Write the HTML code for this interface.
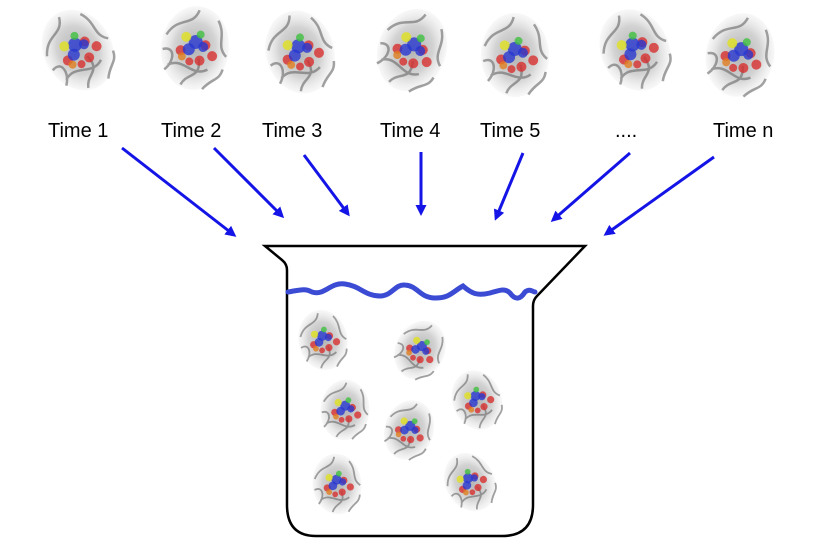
<!DOCTYPE html>
<html><head><meta charset="utf-8"><style>
html,body{margin:0;padding:0;background:#fff;}
svg{display:block;font-family:"Liberation Sans",sans-serif;}
</style></head><body>
<svg id="s" width="837" height="542" viewBox="0 0 837 542">
<defs>
<marker id="ah" markerWidth="11" markerHeight="11" refX="8" refY="5.5" orient="auto" markerUnits="userSpaceOnUse" viewBox="0 0 11 11">
<path d="M0,0 L11,5.5 L0,11 Z" fill="#1414e6"/>
</marker>
<radialGradient id="pg" cx="50%" cy="50%" r="50%">
<stop offset="0%" stop-color="#999"/><stop offset="60%" stop-color="#c4c4c4"/><stop offset="100%" stop-color="#ececec" stop-opacity="0.5"/>
</radialGradient>
</defs>
<g id="labels" font-size="20" fill="#000">
<text x="48" y="137">Time 1</text>
<text x="161" y="137">Time 2</text>
<text x="262" y="137">Time 3</text>
<text x="380" y="137">Time 4</text>
<text x="480" y="137">Time 5</text>
<text x="615" y="137">....</text>
<text x="713" y="137">Time n</text>
</g>
<g id="arrows" stroke="#1414e6" stroke-width="3">
<line x1="122" y1="148" x2="234" y2="235" marker-end="url(#ah)"/>
<line x1="214" y1="148" x2="282" y2="216" marker-end="url(#ah)"/>
<line x1="304" y1="155" x2="348" y2="214" marker-end="url(#ah)"/>
<line x1="421" y1="152" x2="421" y2="213" marker-end="url(#ah)"/>
<line x1="523" y1="153" x2="496" y2="218" marker-end="url(#ah)"/>
<line x1="630" y1="153" x2="553" y2="220" marker-end="url(#ah)"/>
<line x1="714" y1="157" x2="606" y2="234" marker-end="url(#ah)"/>
</g>
<path d="M265,246 L585,246 L537,296 Q533,300 533,306 L533,505 Q533,536 502,536 L316,536 Q287,536 287,505 L287,270 Q287,264 282,260 Z" fill="none" stroke="#000" stroke-width="2.5"/>
<path d="M288,292 C300,290 305,288 312,292 C325,296 330,282 345,284 C360,286 365,296 380,296 C392,296 395,284 405,285 C418,286 420,298 435,298 C450,298 452,292 463,286 C472,294 478,296 490,293 C500,290 505,288 510,293 C515,300 520,300 525,292 C530,288 533,292 535,292" fill="none" stroke="#3b4bd4" stroke-width="5" stroke-linecap="round"/>
<g id="prots"></g>
</svg>
<script>
const g=document.getElementById('prots');
const NS='http://www.w3.org/2000/svg';
const prots=[[78,50,1],[195,48,1],[300,52,1],[412,50,1],[515,55,1],[635,50,1],[740,55,1],
[323,340,0.72],[420,350,0.72],[345,410,0.72],[477,400,0.72],[409,430,0.72],[337,484,0.72],[470,482,0.72]];
prots.forEach((p,i)=>{
 const grp=document.createElementNS(NS,'g');
 
 
 grp.setAttribute('transform',`translate(${p[0]},${p[1]}) scale(${p[2]}) rotate(${i*37%60-30})`);
 let h=`<ellipse rx="34" ry="42" fill="url(#pg)" opacity="0.75"/>`;
 h+=`<path d="M-30,-10 C-20,-30 -5,-20 0,-38 M-25,20 C-10,10 0,30 15,20 M-10,38 C-5,25 10,30 5,10 M20,-30 C30,-15 20,-5 32,5 M-32,5 C-20,0 -18,15 -28,25 M12,40 C20,28 28,30 30,18" fill="none" stroke="#666" stroke-width="2.5" opacity="0.6"/>`;
 const cols=[['#d83030',10,-4,5],['#d83030',18,6,5],['#d83030',-14,4,5],['#2838d0',0,-6,7],['#2838d0',-6,2,6],['#e0e020',-10,-10,5],['#40c040',4,-14,4],['#e08020',-12,10,4],['#d83030',6,12,5],['#2838d0',8,-2,5],['#d83030',-4,14,4]];
 cols.forEach(c=>{h+=`<circle cx="${c[1]}" cy="${c[2]}" r="${c[3]}" fill="${c[0]}" opacity="0.8"/>`;});
 grp.innerHTML=h;
 g.appendChild(grp);
});
</script>
</body></html>
